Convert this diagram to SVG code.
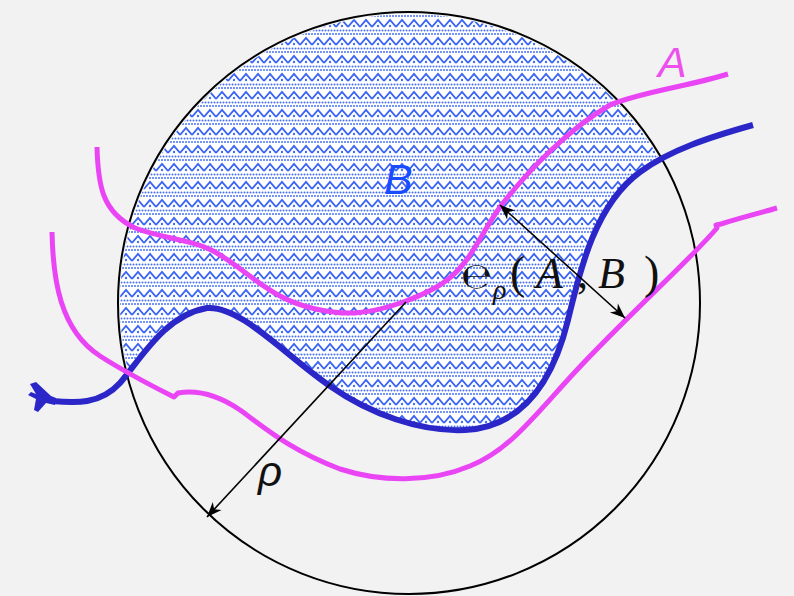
<svg xmlns="http://www.w3.org/2000/svg" width="794" height="596" viewBox="0 0 794 596">
<style>
.ma{fill:none;stroke:#ea45f5;stroke-width:5;stroke-linecap:butt;stroke-linejoin:round}
.bl{fill:none;stroke:#2a26c8;stroke-width:6;stroke-linecap:butt;stroke-linejoin:round}
.arr{fill:none;stroke:#000;stroke-width:1.6}
.lbl{font-family:"Liberation Sans",Arial,sans-serif;font-style:italic}
.math{font-family:"Liberation Serif","Times New Roman",serif;fill:#111}
</style>
<defs>
<pattern id="pat" width="12" height="18" patternUnits="userSpaceOnUse">
<rect width="12" height="18" fill="#ffffff"/>
<path d="M0 9 L6 2 L12 9" stroke="#3a64f4" stroke-width="1.8" fill="none" stroke-linejoin="miter"/>
<g fill="#4570f4">
<circle cx="6" cy="8" r="1.2"/>
<circle cx="1.5" cy="12.5" r="1"/><circle cx="4.5" cy="12.5" r="1"/><circle cx="7.5" cy="12.5" r="1"/><circle cx="10.5" cy="12.5" r="1"/>
<circle cx="0" cy="16" r="1"/><circle cx="3" cy="16" r="1"/><circle cx="6" cy="16" r="1"/><circle cx="9" cy="16" r="1"/><circle cx="12" cy="16" r="1"/>
</g>
</pattern>
<clipPath id="circ"><circle cx="409" cy="303" r="289"/></clipPath>
<marker id="ah" viewBox="-16 -8 18 16" markerWidth="18" markerHeight="16" refX="0" refY="0" orient="auto-start-reverse" markerUnits="userSpaceOnUse">
<path d="M0 0 L-15 -6 L-10.5 0 L-15 6 Z" fill="#000"/>
</marker>
</defs>
<rect width="794" height="596" fill="#f2f2f2"/>

<g id="regionB">
<path clip-path="url(#circ)" fill="url(#pat)" d="M52 401 C75 403 100 405 120 383 C140 360 165 315 207 308 C240 305 285 355 330 386 C370 414 420 432 465 430 C520 427 552 385 568 320 C580 270 595 205 640 172 C670 150 710 137 753 125 L794 125 L794 0 L0 0 L0 401 Z"/>
</g>

<g id="circle">
<circle cx="409" cy="303" r="291" fill="none" stroke="#000" stroke-width="2"/>
</g>

<g id="curveA">
<path class="ma" d="M97 147 C98 185 102 212 135 228 C160 238 195 240 215 252 C240 266 255 283 280 296 C300 307 330 314 355 313 C385 311 420 297 440 285 C470 266 478 238 500 207 C530 168 570 128 610 105 C640 92 690 86 728 74"/>
</g>

<g id="curveB">
<path class="bl" d="M52 401 C75 403 100 405 120 383 C140 360 165 315 207 308 C240 305 285 355 330 386 C370 414 420 432 465 430 C520 427 552 385 568 320 C580 270 595 205 640 172 C670 150 710 137 753 125"/>
<path d="M30 384 L36 382 L51 396 L56 398 L55 405 L46 403 L38 412 L34 410 L36 399 L28 395 L31 392 L36 394 Z" fill="#2a26c8"/>
</g>

<g id="curveA2">
<path class="ma" d="M52 232 C53 280 60 330 100 356 C125 372 150 385 174 397 L178 393 C195 390 215 393 240 410 C265 428 290 450 340 469 C380 482 430 483 470 466 C510 450 535 415 575 372 C630 313 690 260 717 228 L716 225 L721 224 C740 218 760 213 777 208"/>
</g>

<g id="connectors">
<line class="arr" x1="406" y1="302" x2="207" y2="517" marker-end="url(#ah)"/>
<line class="arr" x1="500" y1="205" x2="625" y2="318" marker-start="url(#ah)" marker-end="url(#ah)"/>
</g>

<g id="labels">
<text class="lbl" x="658" y="77" font-size="43" fill="#ee50ee">A</text>
<text class="lbl" x="384" y="194" font-size="43" fill="#1a4cff">B</text>
<text class="lbl" x="258" y="486" font-size="42" fill="#111">ρ</text>
<text class="math" font-size="44"><tspan x="461" y="288" font-family="'DejaVu Serif','DejaVu Sans',serif" font-size="36">℮</tspan><tspan x="493" y="299" font-style="italic" font-size="28">ρ</tspan><tspan x="510" y="288" font-size="46">(</tspan><tspan x="536" y="288" font-style="italic" font-size="44">A</tspan><tspan x="577" y="288" font-size="44">,</tspan><tspan x="598" y="288" font-style="italic" font-size="44">B</tspan><tspan x="644" y="288" font-size="46">)</tspan></text>
</g>
</svg>
